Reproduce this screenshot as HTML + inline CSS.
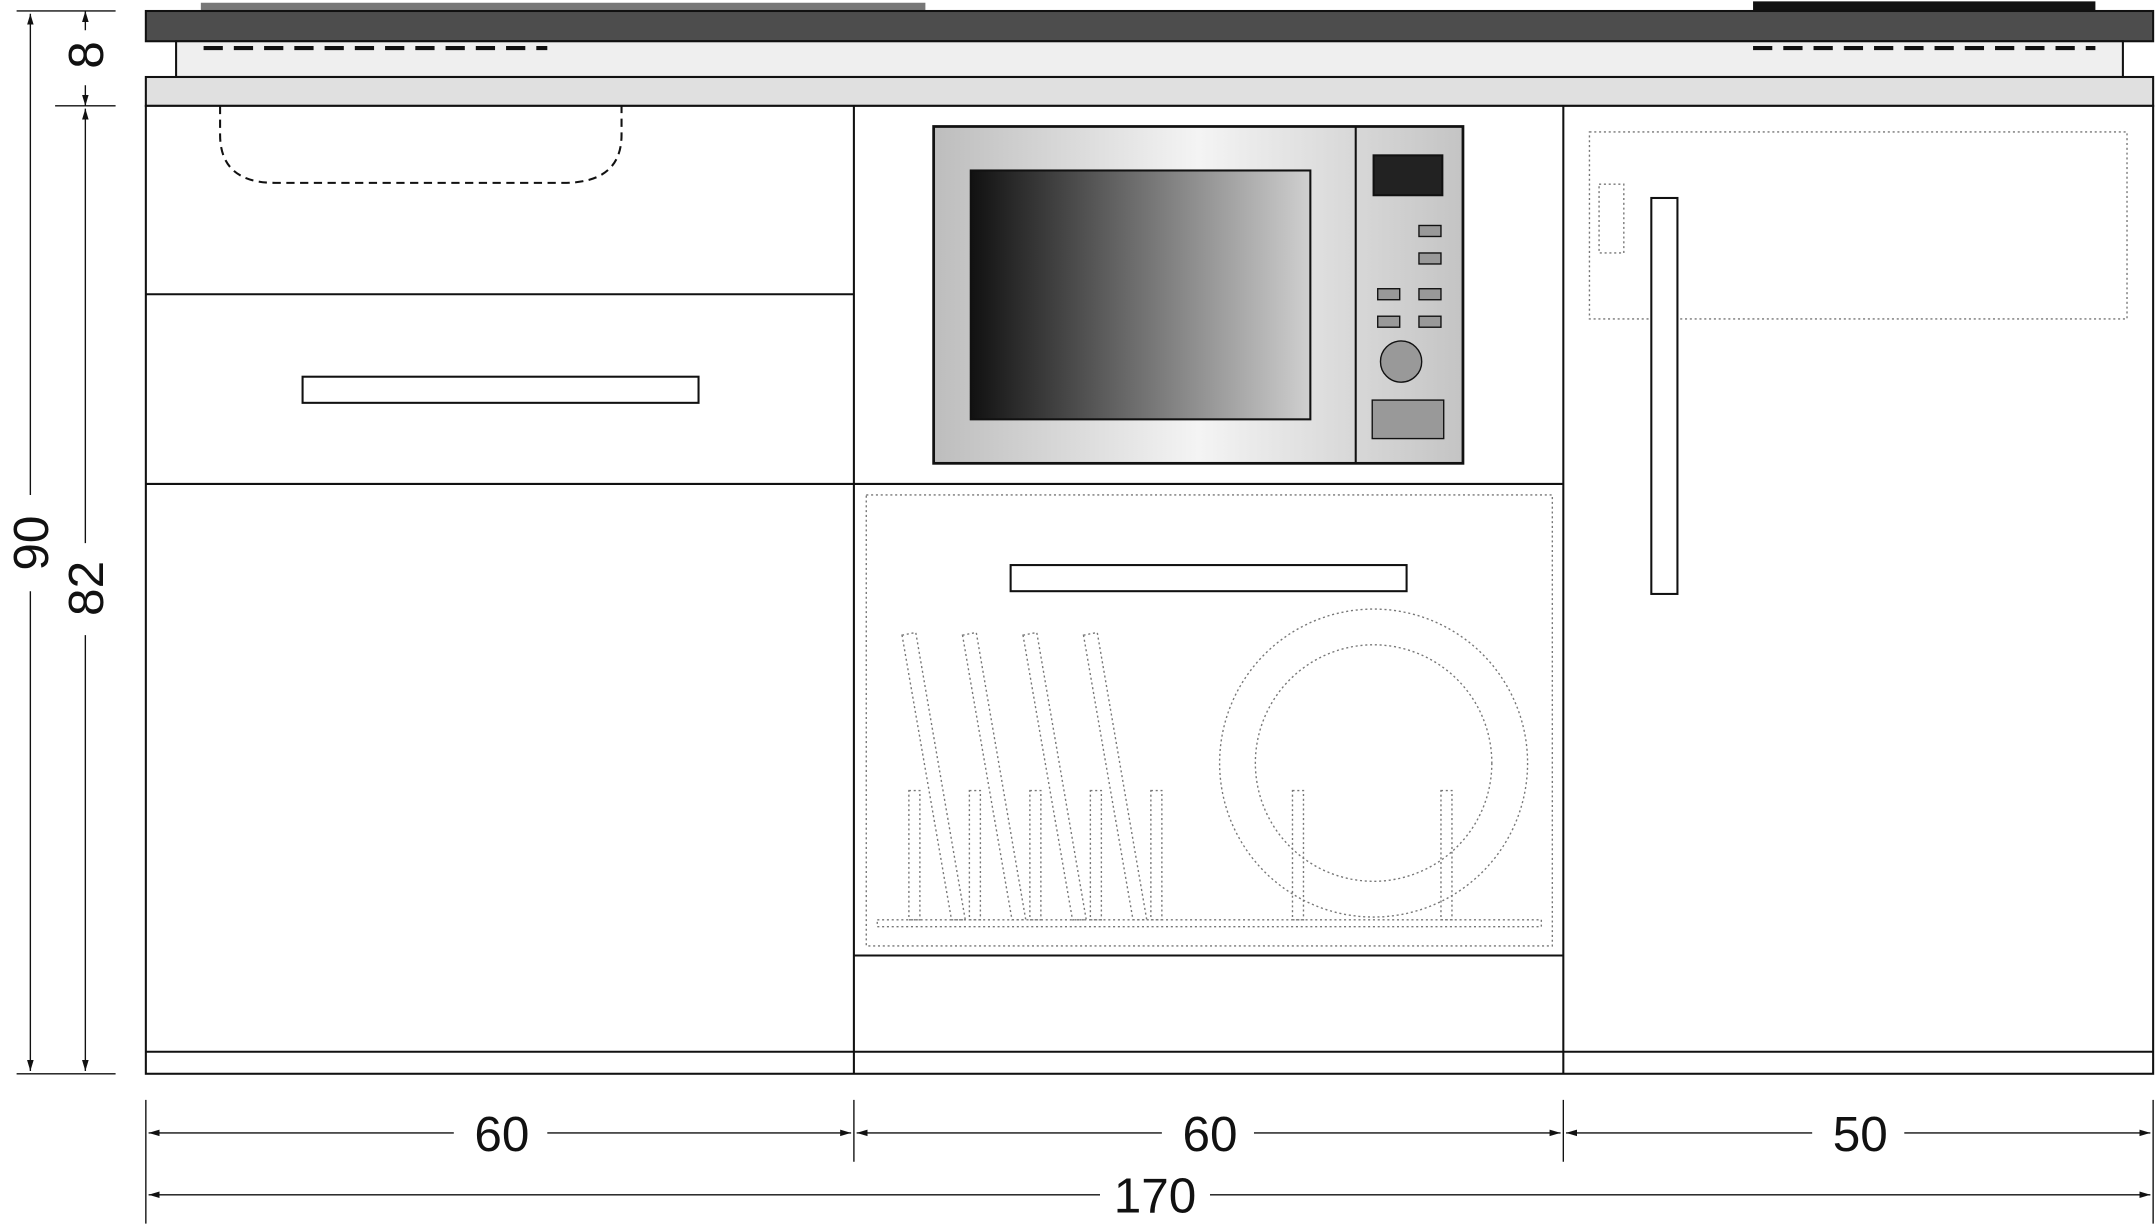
<!DOCTYPE html>
<html><head><meta charset="utf-8"><style>
html,body{margin:0;padding:0;background:#fff;}
svg{display:block;}
text{font-family:"Liberation Sans",sans-serif;font-size:36px;fill:#111;}
</style></head><body>
<svg width="2156" height="1225" viewBox="0 0 1568 891" xmlns="http://www.w3.org/2000/svg">
<defs>
<linearGradient id="mw" x1="0" x2="1" y1="0" y2="0">
<stop offset="0" stop-color="#bdbdbd"/><stop offset="0.5" stop-color="#f4f4f4"/><stop offset="1" stop-color="#c4c4c4"/></linearGradient>
<linearGradient id="win" x1="0" x2="1" y1="0" y2="0">
<stop offset="0" stop-color="#111"/><stop offset="1" stop-color="#d0d0d0"/></linearGradient>
<marker id="a" viewBox="0 0 10 10" refX="10" refY="5" markerWidth="8" markerHeight="8" orient="auto-start-reverse"><path d="M0,2 L10,5 L0,8 z" fill="#111"/></marker>
</defs>
<g stroke="#111" stroke-width="1.5" fill="none">
<!-- top hob strips -->
<rect x="146" y="2" width="527" height="7" fill="#777" stroke="none"/>
<rect x="1275" y="1" width="249" height="8" fill="#111" stroke="none"/>
<rect x="106" y="8" width="1460" height="22" fill="#4d4d4d"/>
<rect x="128" y="30" width="1416" height="26" fill="#efefef"/>
<line x1="148" y1="35" x2="398" y2="35" stroke-width="3" stroke-dasharray="14,8"/>
<line x1="1275" y1="35" x2="1524" y2="35" stroke-width="3" stroke-dasharray="14,8"/>
<rect x="106" y="56" width="1460" height="21" fill="#e0e0e0"/>
<!-- body -->
<rect x="106" y="77" width="1460" height="704" fill="#fff"/>
<line x1="106" y1="765" x2="1566" y2="765"/>
<line x1="621" y1="77" x2="621" y2="781"/>
<line x1="1137" y1="77" x2="1137" y2="781"/>
<!-- left -->
<line x1="106" y1="214" x2="621" y2="214"/>
<line x1="106" y1="352" x2="1137" y2="352"/>
<rect x="220" y="274" width="288" height="19"/>
<path d="M160,77 L160,98 Q160,133 200,133 L410,133 Q452,133 452,98 L452,77" stroke-dasharray="6,4"/>
<!-- microwave -->
<rect x="679" y="92" width="385" height="245" fill="url(#mw)" stroke-width="2"/>
<line x1="986" y1="92" x2="986" y2="337"/>
<rect x="706" y="124" width="247" height="181" fill="url(#win)"/>
<rect x="999" y="113" width="50" height="29" fill="#222"/>
<g fill="#999" stroke-width="1">
<rect x="1032" y="164" width="16" height="8"/><rect x="1032" y="184" width="16" height="8"/>
<rect x="1002" y="210" width="16" height="8"/><rect x="1032" y="210" width="16" height="8"/>
<rect x="1002" y="230" width="16" height="8"/><rect x="1032" y="230" width="16" height="8"/>
<circle cx="1019" cy="263" r="15"/>
<rect x="998" y="291" width="52" height="28"/>
</g>
<!-- dishwasher -->
<line x1="621" y1="695" x2="1137" y2="695"/>
<g stroke="#777" stroke-width="1" stroke-dasharray="1.5,2">
<rect x="630" y="360" width="499" height="328"/>
<circle cx="999" cy="555" r="112"/>
<circle cx="999" cy="555" r="86"/>
<path d="M656,462 L666,460 L702,669 L692,669 Z"/>
<path d="M700,462 L710,460 L746,669 L736,669 Z"/>
<path d="M744,462 L754,460 L790,669 L780,669 Z"/>
<path d="M788,462 L798,460 L834,669 L824,669 Z"/>
<rect x="661" y="575" width="8" height="94"/>
<rect x="705" y="575" width="8" height="94"/>
<rect x="749" y="575" width="8" height="94"/>
<rect x="793" y="575" width="8" height="94"/>
<rect x="837" y="575" width="8" height="94"/>
<rect x="940" y="575" width="8" height="94"/>
<rect x="1048" y="575" width="8" height="94"/>
<rect x="638" y="669" width="483" height="5"/>
</g>
<rect x="735" y="411" width="288" height="19" fill="#fff"/>
<!-- fridge -->
<g stroke="#777" stroke-width="1" stroke-dasharray="1.5,2">
<rect x="1156" y="96" width="391" height="136"/>
<rect x="1163" y="134" width="18" height="50"/>
</g>
<rect x="1201" y="144" width="19" height="288" fill="#fff"/>
<!-- dimensions -->
<g stroke-width="1">
<line x1="12" y1="8" x2="84" y2="8"/><line x1="40" y1="77" x2="84" y2="77"/><line x1="12" y1="781" x2="84" y2="781"/>
<line x1="22" y1="10" x2="22" y2="360" marker-start="url(#a)"/>
<line x1="22" y1="430" x2="22" y2="779" marker-end="url(#a)"/>
<line x1="62" y1="8" x2="62" y2="22" marker-start="url(#a)"/>
<line x1="62" y1="62" x2="62" y2="77" marker-end="url(#a)"/>
<line x1="62" y1="79" x2="62" y2="395" marker-start="url(#a)"/>
<line x1="62" y1="462" x2="62" y2="779" marker-end="url(#a)"/>
<line x1="106" y1="800" x2="106" y2="890"/><line x1="621" y1="800" x2="621" y2="845"/>
<line x1="1137" y1="800" x2="1137" y2="845"/><line x1="1566" y1="800" x2="1566" y2="890"/>
<line x1="108" y1="824" x2="330" y2="824" marker-start="url(#a)"/>
<line x1="398" y1="824" x2="619" y2="824" marker-end="url(#a)"/>
<line x1="623" y1="824" x2="845" y2="824" marker-start="url(#a)"/>
<line x1="912" y1="824" x2="1135" y2="824" marker-end="url(#a)"/>
<line x1="1139" y1="824" x2="1318" y2="824" marker-start="url(#a)"/>
<line x1="1385" y1="824" x2="1564" y2="824" marker-end="url(#a)"/>
<line x1="108" y1="869" x2="800" y2="869" marker-start="url(#a)"/>
<line x1="880" y1="869" x2="1564" y2="869" marker-end="url(#a)"/>
</g>
</g>
<text x="365" y="837" text-anchor="middle">60</text>
<text x="880" y="837" text-anchor="middle">60</text>
<text x="1353" y="837" text-anchor="middle">50</text>
<text x="840" y="882" text-anchor="middle">170</text>
<text transform="translate(35,395) rotate(-90)" text-anchor="middle">90</text>
<text transform="translate(75,428) rotate(-90)" text-anchor="middle">82</text>
<text transform="translate(75,40) rotate(-90)" text-anchor="middle">8</text>
</svg>
</body></html>
